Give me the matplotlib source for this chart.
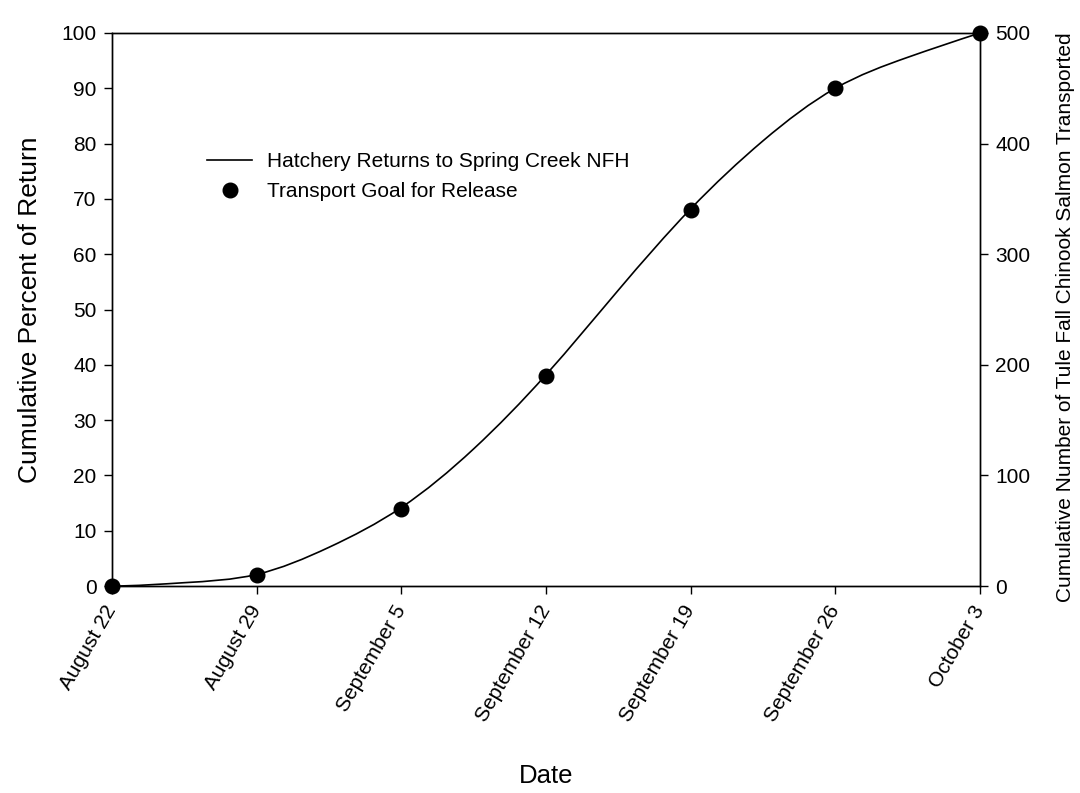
import matplotlib
matplotlib.use("Agg")
import matplotlib.pyplot as plt
import numpy as np
from matplotlib.path import Path
from matplotlib.patches import PathPatch
from matplotlib.lines import Line2D

plt.rcParams['font.family'] = ['Liberation Sans', 'DejaVu Sans']

# Data
tick_days = [0, 7, 14, 21, 28, 35, 42]
tick_labels = ["August 22", "August 29", "September 5", "September 12",
               "September 19", "September 26", "October 3"]
goal_days = [0, 7, 14, 21, 28, 35, 42]
goal_numbers = [0, 10, 70, 190, 340, 450, 500]   # right axis
curve_days = [0, 3.5, 7, 10.5, 14, 17.5, 21, 24.5, 28, 31.5, 35, 38.5, 42]
curve_pct = [0, 0.6, 2.1, 7.0, 14.2, 24.8, 38.2, 53.5, 68.2, 80.5, 90.0, 95.6, 100]
start_slope, end_slope = 0.0, 1.2   # slope of the curve at its two ends (% per day)

fig = plt.figure(figsize=(10.8, 7.93), dpi=100)
ax = fig.add_axes([112/1080, 1-586/793, 868/1080, 553/793])
ax2 = ax.twinx()

ax.set_xlim(0, 42)
ax.set_ylim(0, 100)
ax2.set_ylim(0, 500)

# smooth line through the read points: clamped cubic spline drawn as Bezier segments
x = np.asarray(curve_days, float)
y = np.asarray(curve_pct, float)
n = len(x)
h = np.diff(x)
A = np.zeros((n, n))
b = np.zeros(n)
A[0, 0], A[0, 1] = 2*h[0], h[0]
b[0] = 6*((y[1]-y[0])/h[0] - start_slope)
A[-1, -2], A[-1, -1] = h[-1], 2*h[-1]
b[-1] = 6*(end_slope - (y[-1]-y[-2])/h[-1])
for i in range(1, n-1):
    A[i, i-1], A[i, i], A[i, i+1] = h[i-1], 2*(h[i-1]+h[i]), h[i]
    b[i] = 6*((y[i+1]-y[i])/h[i] - (y[i]-y[i-1])/h[i-1])
M = np.linalg.solve(A, b)
m = np.zeros(n)
for i in range(n-1):
    m[i] = (y[i+1]-y[i])/h[i] - h[i]*(2*M[i] + M[i+1])/6
m[-1] = end_slope
verts = [(x[0], y[0])]
codes = [Path.MOVETO]
for i in range(n - 1):
    verts += [(x[i] + h[i]/3, y[i] + m[i]*h[i]/3),
              (x[i+1] - h[i]/3, y[i+1] - m[i+1]*h[i]/3),
              (x[i+1], y[i+1])]
    codes += [Path.CURVE4]*3
ax.add_patch(PathPatch(Path(verts, codes), facecolor='none', edgecolor='black', lw=1.2))

ax2.plot(goal_days, goal_numbers, 'o', color='black', markersize=10.5, clip_on=False, zorder=5)

ax.set_xticks(tick_days)
ax.set_xticklabels(tick_labels, rotation=60, ha='right', va='center',
                   rotation_mode='anchor', fontsize=15)
ax.set_yticks(np.arange(0, 101, 10))
ax2.set_yticks(np.arange(0, 501, 100))
ax.tick_params(axis='y', direction='out', length=6, width=1, labelsize=15, pad=5)
ax.tick_params(axis='x', direction='out', length=6, width=1, labelsize=15, pad=9)
ax2.tick_params(axis='y', direction='out', length=6, width=1, labelsize=15, pad=5)
for a in (ax, ax2):
    for s in a.spines.values():
        s.set_linewidth(1.0)

ax.set_ylabel("Cumulative Percent of Return", fontsize=19)
ax.yaxis.set_label_coords(-0.081, 0.5)
ax2.set_ylabel("Cumulative Number of Tule Fall Chinook Salmon Transported", fontsize=15)
ax2.yaxis.set_label_coords(1.088, 0.487)
ax.set_xlabel("Date", fontsize=18.5)
ax.xaxis.set_label_coords(0.5, -0.322)

handles = [Line2D([], [], color='black', lw=1.2),
           Line2D([], [], color='black', marker='o', ls='none', markersize=10.5)]
ax.legend(handles, ["Hatchery Returns to Spring Creek NFH", "Transport Goal for Release"],
          frameon=False, fontsize=15, loc='upper left', bbox_to_anchor=(0.109, 0.784),
          handlelength=2.2, handletextpad=0.72, labelspacing=0.5, borderaxespad=0, borderpad=0)

fig.savefig("out.png", dpi=100)
